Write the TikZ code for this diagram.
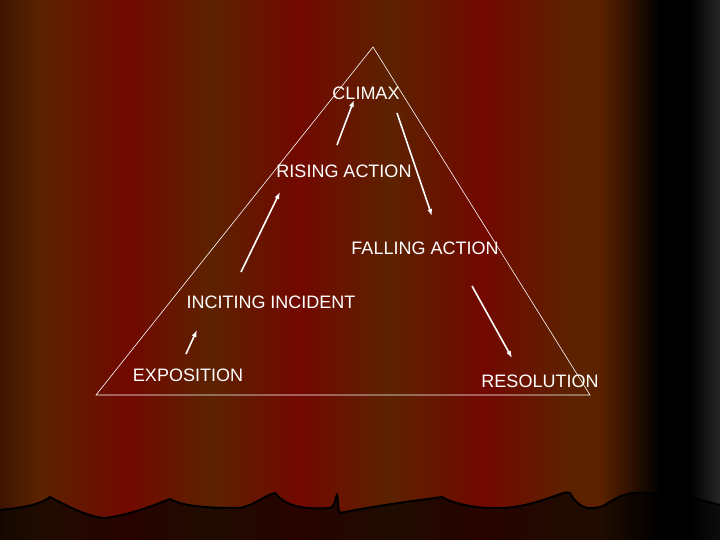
\documentclass[tikz,border=0pt]{standalone}
\usepackage{fontspec}
\setmainfont{Liberation Sans}
\begin{document}
\begin{tikzpicture}[x=1pt,y=-1pt,
  lbl/.style={text=white,font=\fontsize{18}{20}\selectfont,inner sep=1pt},
  arr/.style={white,line width=1.6pt,-{Latex[length=7pt,width=5pt]}}]
\usetikzlibrary{arrows.meta}
\definecolor{br}{HTML}{5c2200}
\definecolor{rd}{HTML}{720800}
\definecolor{dk}{HTML}{2a0c04}
\useasboundingbox (0,0) rectangle (720,540);
\fill[br] (0,0) rectangle (720,540);
\foreach \a/\b/\c/\d in {0/40/dk!60!br/br, 40/128/br/rd, 128/210/rd/br, 210/298/br/rd, 298/390/rd/br, 390/482/br/rd, 482/570/rd/br, 570/600/br/br, 600/660/br/black}
  \shade[left color=\c,right color=\d] (\a,0) rectangle (\b+0.5,540);
\fill[black] (660,0) rectangle (720,540);
\shade[left color=black,right color=black!85] (690,0) rectangle (720,540);
% bottom dark band
\fill[black,opacity=0.65] (0,510) .. controls (20,508) and (40,505) .. (50,497)
  .. controls (65,505) and (90,518) .. (105,518) .. controls (130,515) and (155,505) .. (170,499)
  .. controls (185,508) and (220,508) .. (240,508) .. controls (255,505) and (265,495) .. (275,493)
  .. controls (285,505) and (300,510) .. (330,508) .. controls (337,505) and (335,495) .. (337,495)
  .. controls (339,500) and (337,510) .. (340,513) .. controls (380,505) and (420,500) .. (442,497)
  .. controls (455,505) and (490,512) .. (520,506) .. controls (550,500) and (565,490) .. (570,493)
  .. controls (578,508) and (590,512) .. (605,505) .. controls (620,495) and (630,491) .. (650,493)
  .. controls (680,493) and (700,500) .. (720,505) -- (720,540) -- (0,540) -- cycle;
\draw[black,line width=2pt] (0,510) .. controls (20,508) and (40,505) .. (50,497)
  .. controls (65,505) and (90,518) .. (105,518) .. controls (130,515) and (155,505) .. (170,499)
  .. controls (185,508) and (220,508) .. (240,508) .. controls (255,505) and (265,495) .. (275,493)
  .. controls (285,505) and (300,510) .. (330,508) .. controls (337,505) and (335,495) .. (337,495)
  .. controls (339,500) and (337,510) .. (340,513) .. controls (380,505) and (420,500) .. (442,497)
  .. controls (455,505) and (490,512) .. (520,506) .. controls (550,500) and (565,490) .. (570,493)
  .. controls (578,508) and (590,512) .. (605,505) .. controls (620,495) and (630,491) .. (650,493)
  .. controls (680,493) and (700,500) .. (720,505);
% triangle
\coordinate (apex) at (373,47);
\coordinate (bl) at (96,395);
\coordinate (brc) at (590,395);
\draw[white,line width=0.6pt] (apex) -- (bl) -- (brc) -- cycle;
% labels
\node[lbl] (climax) at (366,93) {CLIMAX};
\node[lbl] (rising) at (344,171) {RISING ACTION};
\node[lbl] (falling) at (425,248) {FALLING ACTION};
\node[lbl] (inciting) at (271,302) {INCITING INCIDENT};
\node[lbl] (expo) at (188,375) {EXPOSITION};
\node[lbl] (reso) at (540,381) {RESOLUTION};
% arrows
\coordinate (a1s) at (337,145); \coordinate (a1e) at (354,100);
\coordinate (a2s) at (241,272); \coordinate (a2e) at (280,192);
\coordinate (a3s) at (397,113); \coordinate (a3e) at (432,216);
\coordinate (a4s) at (186,354); \coordinate (a4e) at (197,330);
\coordinate (a5s) at (472,286); \coordinate (a5e) at (512,358);
\draw[arr] (a1s) -- (a1e);
\draw[arr] (a2s) -- (a2e);
\draw[arr] (a3s) -- (a3e);
\draw[arr] (a4s) -- (a4e);
\draw[arr] (a5s) -- (a5e);
\end{tikzpicture}
\end{document}
